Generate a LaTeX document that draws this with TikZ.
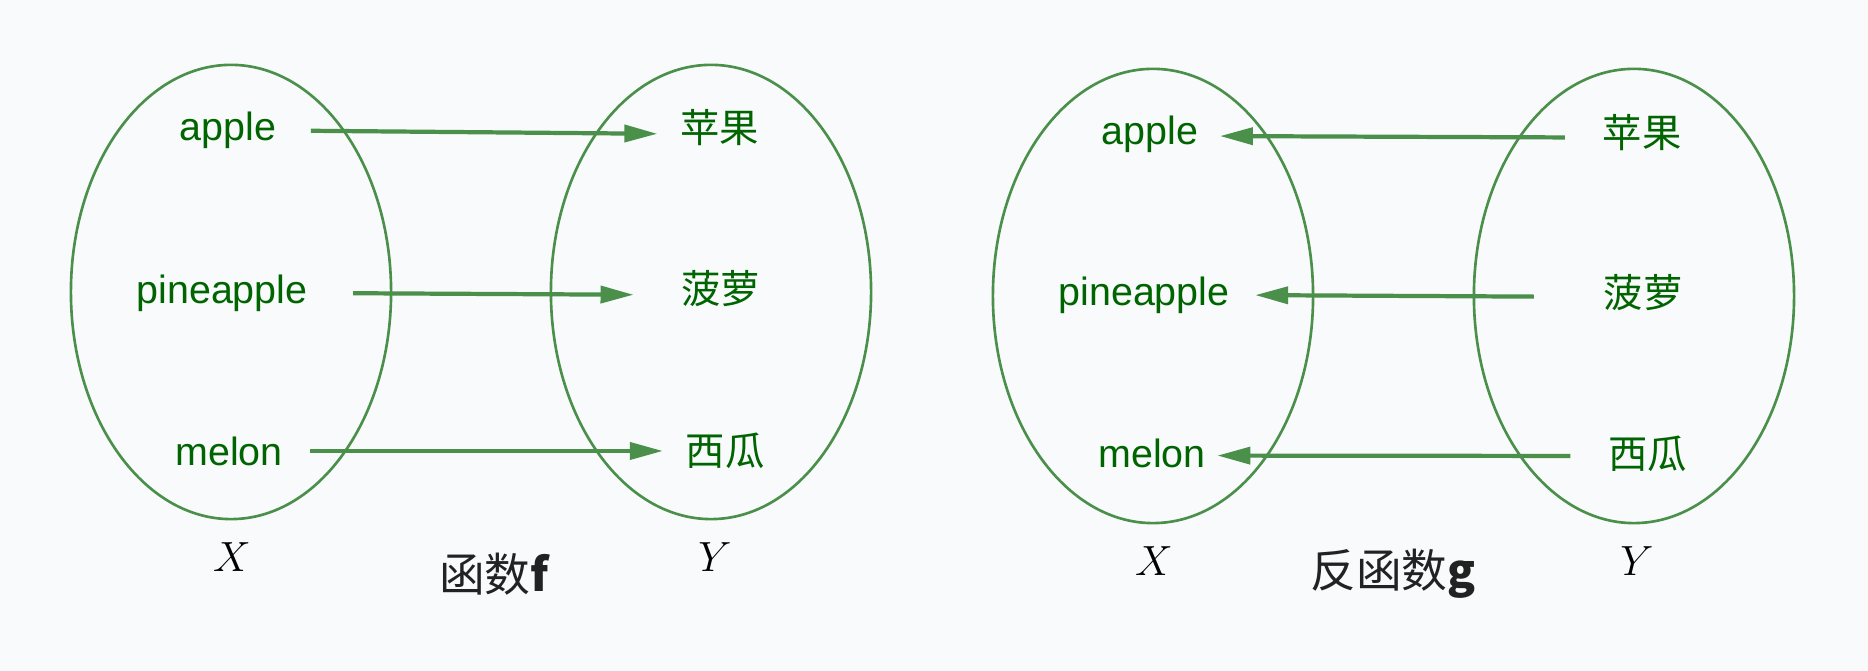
\documentclass[tikz,border=0pt]{standalone}
\usepackage{fontspec}
\setmainfont{Liberation Sans}
\newfontfamily\cjk{Noto Sans CJK SC}
\usepackage{tikz}
\usetikzlibrary{arrows.meta,shapes.geometric}
\definecolor{leafgreen}{HTML}{4A8F4A}
\definecolor{textgreen}{HTML}{006400}
\definecolor{paper}{HTML}{F8FAFC}
\definecolor{inkgray}{HTML}{222222}

\begin{document}
\begin{tikzpicture}[
  x=0.01cm, y=-0.01cm,
  setnode/.style={draw=leafgreen,ellipse,line width=0.75pt,minimum width=3.2cm,minimum height=4.54cm,inner sep=0pt},
  elemnode/.style={text=textgreen,inner sep=0pt,font=\fontsize{11.2}{13}\selectfont},
  ]
  \tikzset{%
    mapto/.style={
      -{Triangle[length=9.4pt,width=4.8pt]},
      color=leafgreen,
      line width=1.2pt,
    },
    setname/.style={inner sep=0pt,font=\fontsize{13}{15}\selectfont},
    caption/.style={inner sep=0pt,text=inkgray,font=\cjk\fontsize{13}{15}\selectfont},
  }
  \path[fill=paper] (0,0) rectangle (1868,671);
  %Sets
  \node[setnode](X1) at (231,292){};
  \node[setnode](Y1) at (711,292){};
  \node[setnode](X2) at (1153,296){};
  \node[setnode](Y2) at (1634,296){};
  %Nodes
  \node[elemnode](x1a) at (228,130.5){apple};
  \node[elemnode](x1b) at (222,293){pineapple};
  \node[elemnode](x1c) at (229,451){melon};
  \node[elemnode](y1a) at (719.5,128){\cjk 苹果};
  \node[elemnode](y1b) at (720.7,289){\cjk 菠萝};
  \node[elemnode](y1c) at (725,451){\cjk 西瓜};
  \node[elemnode](x2a) at (1150,134){apple};
  \node[elemnode](x2b) at (1144,295){pineapple};
  \node[elemnode](x2c) at (1152,453.6){melon};
  \node[elemnode](y2a) at (1642,132.6){\cjk 苹果};
  \node[elemnode](y2b) at (1643,293){\cjk 菠萝};
  \node[elemnode](y2c) at (1647.5,454){\cjk 西瓜};
  %Labels
  \node[setname](lx1) at (232,557){$X$};
  \node[setname](ly1) at (715,557){$Y$};
  \node[setname](lx2) at (1154,561){$X$};
  \node[setname](ly2) at (1637,561){$Y$};
  \node[caption](capf) at (494,574){函数{\bfseries f}};
  \node[caption](capg) at (1393,574){反函数{\bfseries g}};
  %Lines
  \draw[-, auto]
    % function f
    (x1a.east) edge[mapto, shorten <=0.34cm, shorten >=0.22cm]([yshift=-0.06cm]y1a.west)
    (x1b.east) edge[mapto, shorten <=0.45cm, shorten >=0.47cm]([yshift=-0.06cm]y1b.west)
    (x1c.east) edge[mapto, shorten <=0.27cm, shorten >=0.22cm](y1c.west)
    % inverse g
    ([yshift=-0.05cm]y2a.west) edge[mapto, shorten <=0.37cm, shorten >=0.21cm]([yshift=-0.02cm]x2a.east)
    ([yshift=-0.04cm]y2b.west) edge[mapto, shorten <=0.69cm, shorten >=0.25cm](x2b.east)
    ([yshift=-0.02cm]y2c.west) edge[mapto, shorten <=0.37cm, shorten >=0.11cm]([yshift=-0.02cm]x2c.east)
    ;
\end{tikzpicture}
\end{document}
